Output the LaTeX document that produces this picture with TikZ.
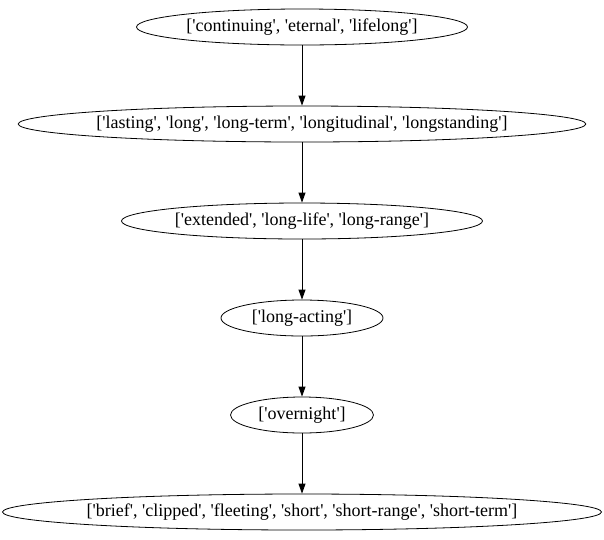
\documentclass[tikz,border=0pt]{standalone}
\usepackage{fontspec}
\setmainfont{Liberation Serif}[Ligatures=TeXOff]
\usepackage{tikz}
\usetikzlibrary{shapes,arrows.meta}
\tikzset{ell/.style={ellipse,draw,line width=0.8pt,minimum height=36pt,inner xsep=-5pt,inner ysep=0pt,font=\fontsize{18pt}{20pt}\selectfont}}

\begin{document}
\begin{tikzpicture}[x=1pt,y=-1pt,>={Triangle[length=10pt,width=7pt]}]
    \useasboundingbox (0,0) rectangle (604,539);
    \node[ell,minimum width=331pt] (continuing) at (302,27) {['continuing', 'eternal', 'lifelong']};
    \node[ell,minimum width=567pt] (lasting) at (302,124) {['lasting', 'long', 'long-term', 'longitudinal', 'longstanding']};
    \node[ell,minimum width=361pt] (extended) at (302,221) {['extended', 'long-life', 'long-range']};
    \node[ell,minimum width=162pt] (longacting) at (302,318) {['long-acting']};
    \node[ell,minimum width=143pt] (overnight) at (302,415) {['overnight']};
    \node[ell,minimum width=599pt] (brief) at (302,512) {['brief', 'clipped', 'fleeting', 'short', 'short-range', 'short-term']};

    \draw [->,line width=0.8pt] (continuing) to [] (lasting);
    \draw [->,line width=0.8pt] (lasting) to [] (extended);
    \draw [->,line width=0.8pt] (extended) to [] (longacting);
    \draw [->,line width=0.8pt] (longacting) to [] (overnight);
    \draw [->,line width=0.8pt] (overnight) to [] (brief);
\end{tikzpicture}
\end{document}
